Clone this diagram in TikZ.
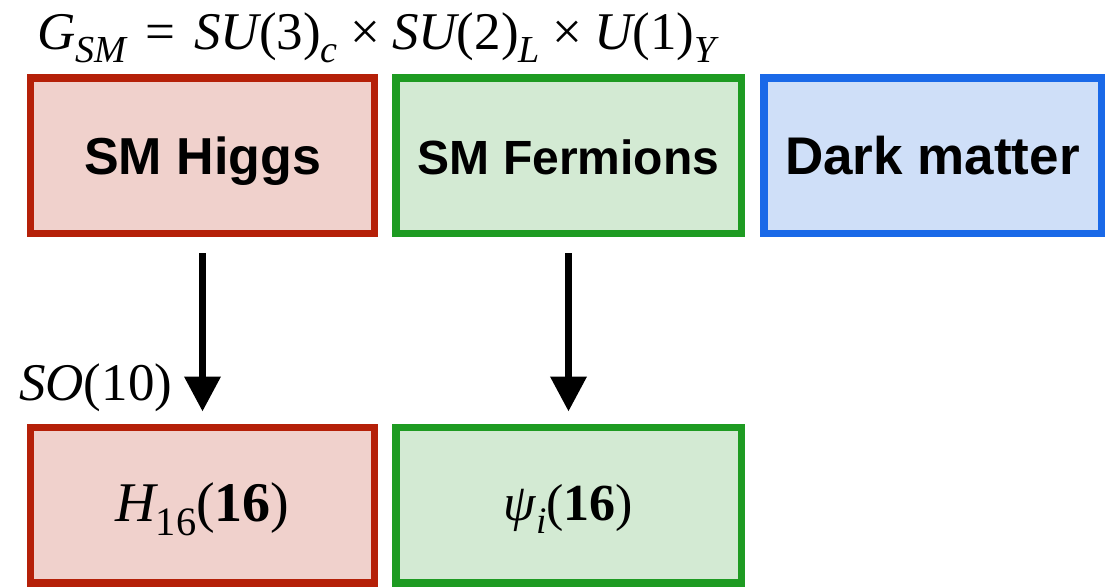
\documentclass[tikz,border=0pt]{standalone}
\usepackage{fontspec}
\setmainfont{Liberation Sans}
\newfontfamily\tms{Liberation Serif}
\usetikzlibrary{arrows.meta}
\definecolor{redline}{HTML}{B52008}
\definecolor{redfill}{HTML}{F0D1CC}
\definecolor{greenline}{HTML}{1E9B22}
\definecolor{greenfill}{HTML}{D3EAD3}
\definecolor{blueline}{HTML}{1A69E8}
\definecolor{bluefill}{HTML}{CFDFF8}
\newcommand\lsub[1]{\raisebox{-0.25em}{\fontsize{0.72em}{0.72em}\selectfont #1}}
\newcommand\eqsp[1]{\hspace{0.36em}{#1}\hspace{0.36em}}
\newcommand\opsp[1]{\hspace{0.24em}{#1}\hspace{0.22em}}
\tikzset{
  box/.style={rectangle, line width=7.5pt, outer sep=0pt, inner sep=0pt,
    minimum width=344pt, minimum height=155.5pt, text height=37pt, text depth=0pt,
    font=\fontsize{52}{60}\selectfont\bfseries},
  redbox/.style={box, draw=redline, fill=redfill},
  greenbox/.style={box, draw=greenline, fill=greenfill},
  bluebox/.style={box, draw=blueline, fill=bluefill},
  mathlbl/.style={inner sep=0pt, font=\fontsize{53}{60}\selectfont\tms},
  bigmath/.style={font=\fontsize{52}{60}\selectfont\tms, text height=30pt},
  down/.style={line width=7pt, -{Triangle[width=35pt,length=35pt]}, shorten <=19.75pt, shorten >=15.75pt}
}
\begin{document}
\begin{tikzpicture}[x=1pt,y=-1pt]
\useasboundingbox (0,0) rectangle (1106,587);
\node[mathlbl, anchor=base west] (title) at (37,49) {{\itshape G}\lsub{\itshape SM}\eqsp{=}{\itshape SU}(3)\lsub{\itshape c}\opsp{×}{\itshape SU}(2)\lsub{\itshape L}\opsp{×}{\itshape U}(1)\lsub{\itshape Y}};
\node[redbox] (hig) at (202.5,155.5) {SM Higgs};
\node[greenbox, minimum width=345.5pt, font=\fontsize{48}{56}\selectfont\bfseries] (fer) at (568.5,155.5) {SM Fermions};
\node[bluebox, minimum width=337.5pt, font=\fontsize{53}{60}\selectfont\bfseries] (dm) at (932.5,155.5) {Dark matter};
\node[redbox, bigmath, font=\fontsize{56}{64}\selectfont\tms, text height=32pt] (h16) at (202.5,505) {{\itshape H}\lsub{16}({\bfseries 16})};
\node[greenbox, minimum width=345.5pt, bigmath] (psi) at (568.5,505) {{\itshape ψ}\lsub{\itshape i}({\bfseries 16})};
\node[mathlbl, anchor=base west] (so10) at (19,400) {{\itshape SO}(10)};
\draw[down] (hig.south) -- (h16.north);
\draw[down] (fer.south) -- (psi.north);
\end{tikzpicture}
\end{document}
